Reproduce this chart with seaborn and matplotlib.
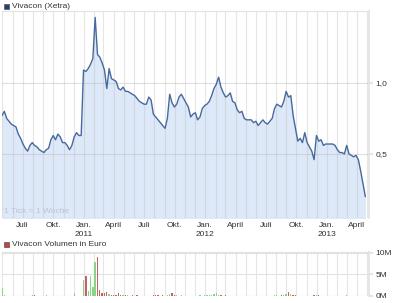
import numpy as np
import pandas as pd
import matplotlib
matplotlib.use("Agg")
import matplotlib.pyplot as plt
import matplotlib.dates as mdates
import seaborn as sns

# ---------------- data ----------------
start_date = "2010-04-30"
price = [0.77, 0.80, 0.75, 0.73, 0.71, 0.70, 0.69, 0.64, 0.61, 0.57,
         0.54, 0.52, 0.56, 0.58, 0.56, 0.55, 0.53, 0.52, 0.51, 0.53,
         0.54, 0.60, 0.63, 0.60, 0.64, 0.62, 0.58, 0.58, 0.56, 0.53,
         0.56, 0.62, 0.65, 0.63, 0.63, 1.09, 1.08, 1.10, 1.13, 1.17,
         1.46, 1.20, 1.18, 1.14, 1.09, 0.96, 1.10, 1.03, 1.02, 1.01,
         0.96, 0.95, 0.97, 0.94, 0.94, 0.93, 0.92, 0.91, 0.89, 0.87,
         0.86, 0.85, 0.85, 0.90, 0.88, 0.78, 0.76, 0.74, 0.72, 0.70,
         0.68, 0.75, 0.92, 0.86, 0.83, 0.85, 0.90, 0.92, 0.89, 0.86,
         0.83, 0.76, 0.78, 0.79, 0.74, 0.76, 0.82, 0.84, 0.85, 0.87,
         0.91, 0.96, 0.99, 1.04, 0.97, 0.93, 0.90, 0.91, 0.93, 0.87,
         0.86, 0.81, 0.79, 0.80, 0.75, 0.74, 0.74, 0.74, 0.72, 0.73,
         0.70, 0.72, 0.74, 0.72, 0.71, 0.73, 0.75, 0.82, 0.85, 0.84,
         0.83, 0.87, 0.94, 0.90, 0.91, 0.77, 0.68, 0.59, 0.61, 0.58,
         0.65, 0.58, 0.55, 0.52, 0.46, 0.63, 0.59, 0.60, 0.56, 0.57,
         0.57, 0.57, 0.57, 0.56, 0.53, 0.51, 0.51, 0.50, 0.56, 0.50,
         0.49, 0.48, 0.49, 0.46, 0.38, 0.29, 0.20]
volume_m = [1.9, 0.3, 0.1, 0.0, 0.05, 0.0, 0.05, 0.0, 0.05, 0.0,
            0.05, 0.0, 0.1, 0.25, 0.2, 0.05, 0.0, 0.05, 0.0, 0.3,
            0.05, 0.1, 0.05, 0.0, 0.05, 0.0, 0.05, 0.0, 0.05, 0.0,
            0.05, 0.6, 0.05, 0.1, 0.05, 3.7, 4.6, 1.2, 4.6, 2.1,
            7.9, 9.1, 1.3, 0.8, 0.7, 1.0, 0.5, 0.3, 0.3, 0.2,
            0.7, 0.2, 0.3, 0.15, 0.2, 0.1, 0.2, 0.1, 0.15, 0.05,
            0.1, 0.05, 0.1, 0.05, 0.1, 0.2, 0.3, 0.2, 0.1, 0.2,
            0.1, 0.3, 0.5, 0.6, 0.2, 0.3, 0.1, 0.2, 0.1, 0.05,
            0.1, 0.05, 0.1, 0.05, 0.1, 0.2, 0.1, 0.3, 0.2, 0.3,
            0.3, 0.4, 0.6, 0.3, 0.2, 0.1, 0.2, 0.05, 0.05, 0.0,
            0.0, 0.05, 0.0, 0.0, 0.05, 0.0, 0.0, 0.0, 0.05, 0.0,
            0.0, 0.05, 0.0, 0.0, 0.0, 0.05, 0.1, 0.3, 0.2, 0.1,
            0.3, 0.3, 0.5, 0.9, 0.5, 0.3, 0.2, 0.1, 0.05, 0.0,
            0.05, 0.0, 0.05, 0.1, 0.2, 0.3, 0.2, 0.1, 0.05, 0.05,
            0.0, 0.05, 0.0, 0.05, 0.0, 0.05, 0.0, 0.05, 0.2, 0.05,
            0.0, 0.05, 0.0, 0.05, 0.0, 0.05, 0.05]
tick_dates = ["2010-07-01", "2010-10-01", "2011-01-01", "2011-04-01",
              "2011-07-01", "2011-10-01", "2012-01-01", "2012-04-01",
              "2012-07-01", "2012-10-01", "2013-01-01", "2013-04-01"]
tick_labels = ["Juli", "Okt.", "Jan.\n2011", "April", "Juli", "Okt.",
               "Jan.\n2012", "April", "Juli", "Okt.", "Jan.\n2013", "April"]
price_ticks = [0.5, 1.0]
price_tick_labels = ["0,5", "1,0"]
vol_ticks = [0, 5, 10]
vol_tick_labels = ["0M", "5M", "10M"]

dates = pd.date_range(start_date, periods=len(price), freq="7D")
df = pd.DataFrame({"date": dates, "price": price, "volume": volume_m})
df["up"] = df["price"].diff().fillna(1) >= 0

# ---------------- style ----------------
sns.set_theme(style="white")
plt.rcParams["font.family"] = ["Liberation Sans", "DejaVu Sans"]
LINE = "#46699f"
FILL = "#dde8f8"
GRID = "#e2e2e2"
TXT = "#333333"
FS = 6

fig = plt.figure(figsize=(4.0, 3.03), dpi=100)
ax = fig.add_axes([2/400, 85/303, 367/400, 207/303])
axv = fig.add_axes([2/400, 7/303, 367/400, 44/303])

xmin = pd.Timestamp("2010-04-30")
xmax = pd.Timestamp("2013-05-07")

for a in (ax, axv):
    a.set_xlim(xmin, xmax)
    a.grid(False)
    for m in pd.date_range("2010-05-01", "2013-05-01", freq="MS"):
        a.axvline(m, color="#b8b8b8", alpha=0.35, lw=0.8, zorder=2)
    for s in ("left", "bottom"):
        a.spines[s].set_visible(False)
    a.spines["top"].set_color(GRID)
    a.spines["right"].set_color(GRID)
    a.spines["top"].set_linewidth(0.8)
    a.spines["right"].set_linewidth(1.2)
    a.yaxis.tick_right()
    a.tick_params(axis="y", length=3, color=GRID, labelsize=FS, labelcolor=TXT, pad=1.5)

# price
ax.fill_between(df["date"], df["price"], 0, color=FILL, zorder=1, lw=0)
sns.lineplot(data=df, x="date", y="price", ax=ax, color=LINE, lw=1.0, zorder=3)
ax.set_ylim(0.05, 1.505)
ax.set_yticks(price_ticks)
ax.set_yticklabels(price_tick_labels)
for v in price_ticks:
    ax.axhline(v, color="#b8b8b8", alpha=0.45, lw=0.8, zorder=2)
ax.set_xticks(pd.to_datetime(tick_dates))
ax.set_xticklabels(tick_labels, fontsize=FS, color=TXT, linespacing=1.3)
ax.tick_params(axis="x", length=0, pad=3)
ax.set_xlabel("")
ax.set_ylabel("")
ax.text(0.005, 0.015, "1 Tick = 1 Woche", transform=ax.transAxes,
        fontsize=FS, color="#b8c4d4", ha="left", va="bottom", zorder=4)

# volume
colors = np.where(df["up"], "#86d686", "#c46262")
axv.bar(df["date"], df["volume"], width=4.0, color=colors, zorder=3, lw=0)
axv.set_ylim(0, 10.2)
axv.set_yticks(vol_ticks)
axv.set_yticklabels(vol_tick_labels)
for v in [5, 10]:
    axv.axhline(v, color=GRID, lw=0.8, zorder=2)
axv.axhline(0, color="#cccccc", lw=0.8, zorder=2)
axv.set_xticks([])
axv.set_xlabel("")
axv.set_ylabel("")

# legends
fig.patches.append(plt.Rectangle((4/400, (303-9)/303), 5/400, 5/303,
                                 transform=fig.transFigure, facecolor="#1f3f7f",
                                 edgecolor="#555555", lw=0.5))
fig.text(12/400, (303-6.5)/303, "Vivacon (Xetra)", fontsize=FS, color=TXT,
         ha="left", va="center")
fig.patches.append(plt.Rectangle((4/400, (303-247)/303), 5/400, 5/303,
                                 transform=fig.transFigure, facecolor="#c84040",
                                 edgecolor="#555555", lw=0.5))
fig.text(12/400, (303-244.5)/303, "Vivacon Volumen in Euro", fontsize=FS, color=TXT,
         ha="left", va="center")

fig.savefig("out.png", dpi=100)
